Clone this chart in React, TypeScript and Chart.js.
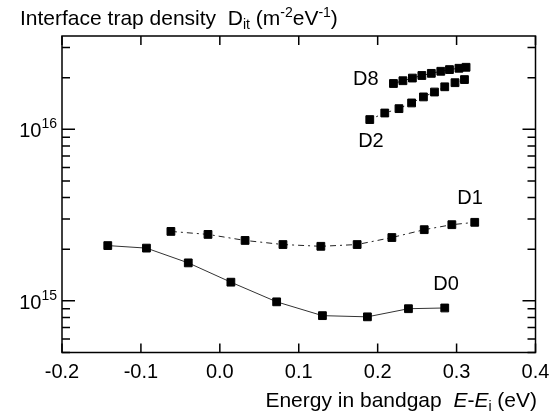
import React, { useEffect, useRef } from 'react';
import { Chart, registerables } from 'chart.js';

Chart.register(...registerables);

// ---- data ----
const d0X = [-0.142, -0.093, -0.040, 0.014, 0.072, 0.130, 0.187, 0.239, 0.285];
const d0Y = [2.10e15, 2.03e15, 1.665e15, 1.285e15, 0.987e15, 8.2e14, 8.07e14, 9.0e14, 9.09e14];
const d1X = [-0.062, -0.015, 0.032, 0.080, 0.128, 0.174, 0.218, 0.259, 0.294, 0.323];
const d1Y = [2.54e15, 2.44e15, 2.25e15, 2.13e15, 2.08e15, 2.13e15, 2.34e15, 2.60e15, 2.78e15, 2.87e15];
const d2X = [0.190, 0.209, 0.227, 0.243, 0.258, 0.272, 0.285, 0.298, 0.310];
const d2Y = [1.14e16, 1.245e16, 1.32e16, 1.425e16, 1.545e16, 1.65e16, 1.77e16, 1.87e16, 1.95e16];
const d8X = [0.220, 0.232, 0.244, 0.256, 0.268, 0.280, 0.291, 0.303, 0.312];
const d8Y = [1.85e16, 1.92e16, 1.99e16, 2.06e16, 2.12e16, 2.18e16, 2.23e16, 2.27e16, 2.30e16];

const seriesNames = ['D0', 'D1', 'D2', 'D8'];
// label anchors in data coordinates
const labelX = [0.2866, 0.317, 0.1915, 0.185];
const labelY = [1.24e15, 3.95e15, 8.5e15, 1.94e16];

const xTicks = [-0.2, -0.1, 0.0, 0.1, 0.2, 0.3, 0.4];
const xTickLabels = ['-0.2', '-0.1', '0.0', '0.1', '0.2', '0.3', '0.4'];
const yMajor = [1e15, 1e16];
const yMinor = [5e14, 6e14, 7e14, 8e14, 9e14, 2e15, 3e15, 4e15, 5e15, 6e15, 7e15, 8e15, 9e15, 2e16, 3e16];

const X_MIN = -0.2, X_MAX = 0.4, Y_MIN = 5e14, Y_MAX = 3.5e16;

const FONT = '"Liberation Sans", Arial, Helvetica, sans-serif';
const FS = 20;
const TS = 21;
const SS = 14;

const toPts = (xs: number[], ys: number[]) => xs.map((x, i) => ({ x, y: ys[i] }));

type Seg = { t: string; size: number; italic?: boolean; dy?: number };

function drawSegs(ctx: CanvasRenderingContext2D, segs: Seg[], x: number, y: number, align: 'left' | 'right') {
  const font = (s: Seg) => `${s.italic ? 'italic ' : ''}${s.size}px ${FONT}`;
  let total = 0;
  for (const s of segs) { ctx.font = font(s); total += ctx.measureText(s.t).width; }
  let cx = align === 'left' ? x : x - total;
  ctx.textAlign = 'left';
  ctx.textBaseline = 'alphabetic';
  for (const s of segs) {
    ctx.font = font(s);
    ctx.fillText(s.t, cx, y + (s.dy || 0));
    cx += ctx.measureText(s.t).width;
  }
}

const framePlugin = {
  id: 'frame',
  afterDraw(chart: any) {
    const { ctx, chartArea } = chart;
    const xs = chart.scales.x;
    const ys = chart.scales.y;
    const { left, right, top, bottom } = chartArea;
    ctx.save();
    ctx.strokeStyle = '#000';
    ctx.fillStyle = '#000';
    ctx.lineWidth = 1.5;
    ctx.strokeRect(left, top, right - left, bottom - top);
    ctx.beginPath();
    for (const v of xTicks) {
      const px = xs.getPixelForValue(v);
      ctx.moveTo(px, bottom); ctx.lineTo(px, bottom - 9);
      ctx.moveTo(px, top); ctx.lineTo(px, top + 9);
    }
    for (const v of yMajor) {
      const py = ys.getPixelForValue(v);
      ctx.moveTo(left, py); ctx.lineTo(left + 13, py);
      ctx.moveTo(right, py); ctx.lineTo(right - 13, py);
    }
    for (const v of yMinor) {
      const py = ys.getPixelForValue(v);
      ctx.moveTo(left, py); ctx.lineTo(left + 8, py);
      ctx.moveTo(right, py); ctx.lineTo(right - 8, py);
    }
    ctx.stroke();

    // x tick labels
    ctx.font = `${FS}px ${FONT}`;
    ctx.textAlign = 'center';
    ctx.textBaseline = 'middle';
    xTicks.forEach((v, i) => {
      ctx.fillText(xTickLabels[i], xs.getPixelForValue(v), bottom + 20);
    });

    // y tick labels 10^n
    for (const v of yMajor) {
      const py = ys.getPixelForValue(v);
      const exp = String(Math.round(Math.log10(v)));
      drawSegs(ctx, [
        { t: '10', size: FS },
        { t: exp, size: SS, dy: -9 },
      ], 57, py + 8, 'right');
    }

    // series labels
    seriesNames.forEach((n, i) => {
      ctx.font = `${FS}px ${FONT}`;
      ctx.textAlign = 'center';
      ctx.textBaseline = 'middle';
      ctx.fillText(n, xs.getPixelForValue(labelX[i]), ys.getPixelForValue(labelY[i]));
    });

    // axis titles
    drawSegs(ctx, [
      { t: 'Interface trap density  D', size: TS },
      { t: 'it', size: SS, dy: 4 },
      { t: ' (m', size: TS },
      { t: '-2', size: SS, dy: -8 },
      { t: 'eV', size: TS },
      { t: '-1', size: SS, dy: -8 },
      { t: ')', size: TS },
    ], 20, 25, 'left');

    drawSegs(ctx, [
      { t: 'Energy in bandgap  ', size: TS },
      { t: 'E', size: TS, italic: true },
      { t: '-', size: TS },
      { t: 'E', size: TS, italic: true },
      { t: 'i', size: SS, dy: 4 },
      { t: ' (eV)', size: TS },
    ], 537, 407, 'right');
    ctx.restore();
  },
};

export default function App() {
  const ref = useRef<HTMLCanvasElement>(null);
  useEffect(() => {
    if (!ref.current) return;
    const common = {
      pointStyle: 'rect' as const,
      pointRadius: 5.5,
      pointHoverRadius: 5.5,
      pointBackgroundColor: '#000',
      pointBorderColor: '#000',
      pointBorderWidth: 1,
      showLine: true,
      borderWidth: 1,
      fill: false,
      tension: 0,
    };
    const chart = new Chart(ref.current, {
      type: 'scatter',
      data: {
        datasets: [
          { ...common, label: 'D0', data: toPts(d0X, d0Y), borderColor: '#333' },
          { ...common, label: 'D1', data: toPts(d1X, d1Y), borderColor: '#222', borderDash: [6, 4, 2, 4] },
          { ...common, label: 'D2', data: toPts(d2X, d2Y), borderColor: '#222', borderDash: [2, 5] },
          { ...common, label: 'D8', data: toPts(d8X, d8Y), borderColor: '#222' },
        ],
      },
      options: {
        responsive: false,
        animation: false,
        devicePixelRatio: 1,
        layout: { padding: { left: 62, right: 18.5, top: 36, bottom: 63.5 } },
        plugins: { legend: { display: false }, tooltip: { enabled: false } },
        scales: {
          x: { type: 'linear', min: X_MIN, max: X_MAX, display: false },
          y: { type: 'logarithmic', min: Y_MIN, max: Y_MAX, display: false },
        },
      },
      plugins: [framePlugin],
    });
    return () => chart.destroy();
  }, []);
  return (
    <div style={{ position: 'fixed', left: 0, top: 0, width: 554, height: 416, background: '#fff' }}>
      <canvas ref={ref} width={554} height={416} />
    </div>
  );
}
